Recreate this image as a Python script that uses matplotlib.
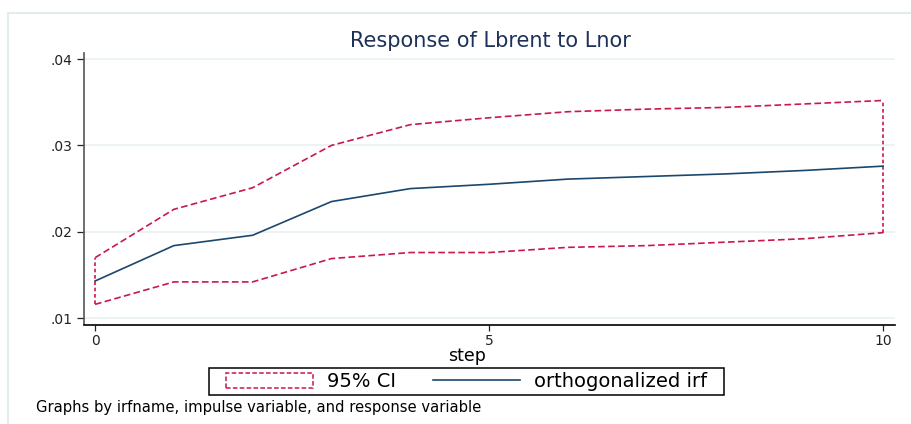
import matplotlib.pyplot as plt
from matplotlib.patches import Patch, Rectangle
from matplotlib.lines import Line2D

# impulse response of Lbrent to Lnor (orthogonalized), steps 0..10
steps = [0, 1, 2, 3, 4, 5, 6, 7, 8, 9, 10]
irf = [0.0143, 0.0184, 0.0196, 0.0235, 0.0250, 0.0255, 0.0261, 0.0264, 0.0267, 0.0271, 0.0276]
ci_upper = [0.0170, 0.0226, 0.0251, 0.0300, 0.0324, 0.0332, 0.0339, 0.0342, 0.0344, 0.0348, 0.0352]
ci_lower = [0.0116, 0.0142, 0.0142, 0.0169, 0.0176, 0.0176, 0.0182, 0.0184, 0.0188, 0.0192, 0.0199]
yticks = [0.01, 0.02, 0.03, 0.04]
ytick_labels = ['.01', '.02', '.03', '.04']
xticks = [0, 5, 10]

ci_color = '#c8194a'
irf_color = '#1a476f'
grid_color = '#eaf2f3'

plt.rcParams['font.family'] = ['DejaVu Sans']

fig = plt.figure(figsize=(9.12, 4.24), dpi=100)
W, H = 912, 424

# light outer frame of the graph region
fig.add_artist(Line2D([8 / W, 1], [1 - 13 / H, 1 - 13 / H], transform=fig.transFigure,
                      color='#e3ecee', lw=1.5))
fig.add_artist(Line2D([8 / W, 8 / W], [0, 1 - 13 / H], transform=fig.transFigure,
                      color='#e3ecee', lw=1.5))

ax = fig.add_axes([84 / W, 1 - 324.5 / H, (895 - 84) / W, (324.5 - 52.7) / H])

# CI outline: dashed bounds plus short-dashed end caps
ax.plot(steps, ci_upper, color=ci_color, lw=1.2, linestyle=(0, (4, 2)))
ax.plot(steps, ci_lower, color=ci_color, lw=1.2, linestyle=(0, (4, 2)))
ax.vlines([steps[0], steps[-1]], [ci_lower[0], ci_lower[-1]], [ci_upper[0], ci_upper[-1]],
          color=ci_color, lw=1.2, linestyle=(0, (2.2, 1.6)))
ax.plot(steps, irf, color=irf_color, lw=1.2)

ax.set_xlim(-0.14, 10.15)
ax.set_ylim(0.00927, 0.04073)
ax.set_yticks(yticks, ytick_labels)
ax.set_xticks(xticks)
ax.grid(axis='y', color=grid_color, lw=1.3)
ax.set_axisbelow(True)

for side in ['top', 'right']:
    ax.spines[side].set_visible(False)
ax.spines['left'].set_color('#555555')
ax.spines['left'].set_linewidth(1.2)
ax.spines['bottom'].set_color('black')
ax.spines['bottom'].set_linewidth(1.2)
ax.tick_params(axis='y', length=5.3, width=0.9, pad=3.2, labelsize=10, colors='#222222')
ax.tick_params(axis='x', length=4, width=0.9, pad=3, labelsize=10, colors='#222222')

fig.text(490 / W, 1 - 46.7 / H, 'Response of Lbrent to Lnor', ha='center', va='baseline',
         fontsize=15, color='#1e3259')
fig.text(467 / W, 1 - 360.7 / H, 'step', ha='center', va='baseline', fontsize=12.5)
fig.text(36 / W, 1 - 412.3 / H, 'Graphs by irfname, impulse variable, and response variable',
         ha='left', va='baseline', fontsize=10.6)

# legend box
fig.add_artist(Rectangle((209 / W, 1 - 395 / H), (724 - 209) / W, 27 / H,
                         transform=fig.transFigure, fill=False, ec='black', lw=1.1))
handles = [Patch(facecolor='none', edgecolor=ci_color, linestyle=(0, (3, 1.5)), lw=1.1),
           Line2D([], [], color=irf_color, lw=1.2)]
fig.legend(handles, ['95% CI', 'orthogonalized irf'], loc='center',
           bbox_to_anchor=(466.5 / W, 1 - 381.5 / H), ncol=2, frameon=False,
           fontsize=14, handlelength=4.5, handleheight=0.8, handletextpad=0.7,
           columnspacing=1.9, borderpad=0)

plt.savefig('out.png', dpi=100)
